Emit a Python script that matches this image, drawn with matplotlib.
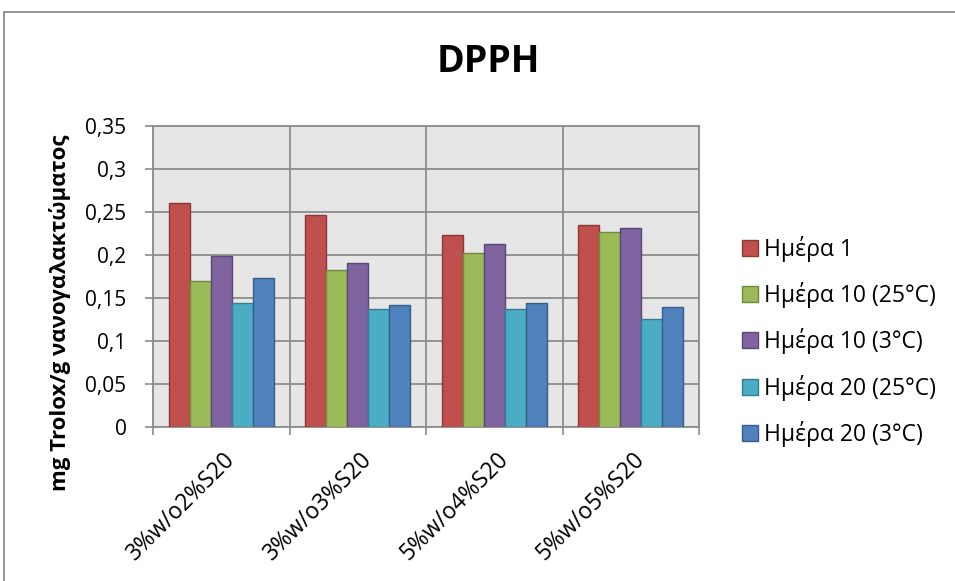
import numpy as np
import matplotlib
matplotlib.use("Agg")
import matplotlib.pyplot as plt
import matplotlib.transforms as mtransforms
from matplotlib.lines import Line2D
from matplotlib.ticker import FuncFormatter, MultipleLocator

plt.rcParams['font.family'] = ['Open Sans', 'DejaVu Sans']

W, H = 955, 581

categories = ["3%w/o2%S20", "3%w/o3%S20", "5%w/o4%S20", "5%w/o5%S20"]
series_names = ["Ημέρα 1", "Ημέρα 10 (25°C)", "Ημέρα 10 (3°C)",
                "Ημέρα 20 (25°C)", "Ημέρα 20 (3°C)"]
day1 = [0.261, 0.247, 0.223, 0.235]
day10_25 = [0.170, 0.183, 0.202, 0.227]
day10_3 = [0.199, 0.191, 0.213, 0.231]
day20_25 = [0.144, 0.137, 0.137, 0.126]
day20_3 = [0.173, 0.142, 0.144, 0.139]
series = [day1, day10_25, day10_3, day20_25, day20_3]

colors = ["#C0504D", "#9BBB59", "#8064A2", "#4BACC6", "#4F81BD"]
edges = ["#8C3836", "#71893F", "#5C4776", "#357D91", "#385D8A"]
grid_col = "#8C8C8C"

fig = plt.figure(figsize=(W / 100, H / 100), dpi=100)
# plot area in pixels: left 153, right 699, top 126, bottom 427
ax = fig.add_axes([153 / W, 1 - 427 / H, 546 / W, 301 / H])
ax.set_facecolor("#E6E6E6")

x = np.arange(len(categories))
bw = 1 / 6.5
for i, vals in enumerate(series):
    ax.bar(x + (i - 2) * bw, vals, bw, color=colors[i], edgecolor=edges[i],
           linewidth=1.0, label=series_names[i], zorder=3)

ax.set_xlim(-0.5, len(categories) - 0.5)
ax.set_ylim(0, 0.35)
ax.yaxis.set_major_locator(MultipleLocator(0.05))
ax.yaxis.set_major_formatter(FuncFormatter(lambda v, p: ('%g' % round(v, 4)).replace('.', ',')))

ax.set_xticks(x)
ax.set_xticks(np.arange(len(categories) + 1) - 0.5, minor=True)
ax.set_xticklabels(categories, rotation=45, ha='right', va='top',
                   rotation_mode='anchor', fontsize=16.5)
ax.tick_params(axis='x', which='major', length=0, pad=15)
ax.tick_params(axis='x', which='minor', length=6, width=1.2, color=grid_col,
               direction='out')
ax.tick_params(axis='y', length=6, width=1.2, color=grid_col, direction='out',
               pad=13, labelsize=15)

shift = mtransforms.ScaledTranslation(2 / 100, 0, fig.dpi_scale_trans)
for lbl in ax.get_xticklabels():
    lbl.set_transform(lbl.get_transform() + shift)

ax.grid(True, axis='y', which='major', color=grid_col, linewidth=1.3, zorder=1)
ax.grid(True, axis='x', which='minor', color=grid_col, linewidth=1.3, zorder=1)
ax.set_axisbelow(True)
for s in ax.spines.values():
    s.set_color(grid_col)
    s.set_linewidth(1.3)

fig.text(488 / W, 1 - 62 / H, "DPPH", ha='center', va='center',
         fontsize=27, fontweight='bold')
fig.text(60 / W, 1 - 313 / H, "mg Trolox/g νανογαλακτώματος", rotation=90,
         ha='center', va='center', fontsize=16, fontweight='bold')

fig.legend(loc='center left', bbox_to_anchor=(742 / W, 1 - 341.5 / H),
           frameon=False, fontsize=16.5, borderpad=0, borderaxespad=0,
           handlelength=0.7, handleheight=0.7, handletextpad=0.25,
           labelspacing=0.88)

# chart border (top and left visible)
fig.add_artist(Line2D([4 / W, 1], [1 - 12 / H, 1 - 12 / H], color="#8C8C8C",
                      linewidth=1.3, transform=fig.transFigure))
fig.add_artist(Line2D([4 / W, 4 / W], [0, 1 - 12 / H], color="#8C8C8C",
                      linewidth=1.3, transform=fig.transFigure))

fig.savefig("out.png", dpi=100)
